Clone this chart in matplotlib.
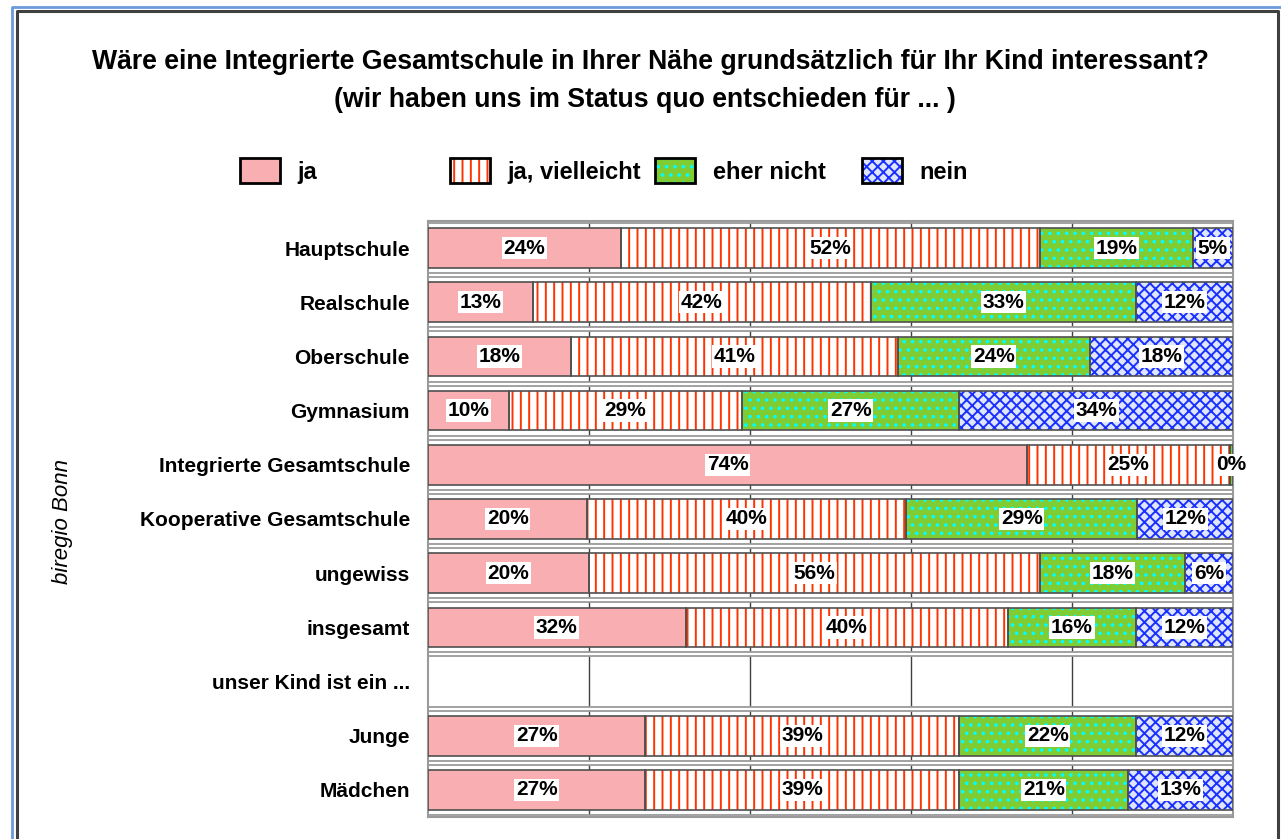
import numpy as np
import matplotlib.pyplot as plt
from matplotlib.patches import Patch
from matplotlib.lines import Line2D
from matplotlib.legend_handler import HandlerTuple

plt.rcParams['font.family'] = ['Liberation Sans', 'DejaVu Sans']
plt.rcParams['hatch.linewidth'] = 1.4

# -----------------------------
# data
# -----------------------------
categories = ["Hauptschule", "Realschule", "Oberschule", "Gymnasium",
              "Integrierte Gesamtschule", "Kooperative Gesamtschule",
              "ungewiss", "insgesamt", "unser Kind ist ein ...",
              "Junge", "Mädchen"]
ja = [24, 13, 18, 10, 74, 20, 20, 32, 0, 27, 27]
ja_vielleicht = [52, 42, 41, 29, 25, 40, 56, 40, 0, 39, 39]
eher_nicht = [19, 33, 24, 27, 0.4, 29, 18, 16, 0, 22, 21]
nein = [5, 12, 18, 34, 0, 12, 6, 12, 0, 12, 13]

series_names = ["ja", "ja, vielleicht", "eher nicht", "nein"]
title_1 = "Wäre eine Integrierte Gesamtschule in Ihrer Nähe grundsätzlich für Ihr Kind interessant?"
title_2 = "(wir haben uns im Status quo entschieden für ... )"

# styles: facecolor, hatch, hatch colour
styles = [("#f9aeb2", None, None),
          ("white", "||", "#ff3300"),
          ("#80cc33", "..", "#00ffff"),
          ("#dfe6fb", "xxx", "#1a30ff")]

# -----------------------------
# figure
# -----------------------------
fig = plt.figure(figsize=(12.81, 8.39), dpi=100)
ax = fig.add_axes([428 / 1281, 1 - 817 / 839, (1233 - 428) / 1281, (817 - 221) / 839])

values = np.array([ja, ja_vielleicht, eher_nicht, nein], dtype=float)
totals = values.sum(axis=0)
totals[totals == 0] = 1
widths = values / totals * 100

y = np.arange(len(categories))
left = np.zeros(len(categories))
bar_h = 0.73

for i, (fc, hatch, hc) in enumerate(styles):
    w = widths[i]
    mask = values[i] > 0
    ax.barh(y[mask], w[mask], left=left[mask], height=bar_h, color=fc,
            hatch=hatch, edgecolor=hc if hc else fc, linewidth=0, zorder=3)
    ax.barh(y[mask], w[mask], left=left[mask], height=bar_h, fill=False,
            edgecolor="#505050", linewidth=1.2, zorder=4)
    for yy, l, ww, v, m in zip(y, left, w, values[i], mask):
        if m:
            ax.text(l + ww / 2, yy, f"{v:.0f}%", ha="center", va="center",
                    fontsize=15, fontweight="bold", color="black", zorder=6,
                    bbox=dict(boxstyle="square,pad=0.08", fc="white", ec="none"))
    left = left + w

ax.set_xlim(0, 100)
ax.set_ylim(len(categories) - 0.5, -0.5)

# vertical grid
for gx in [20, 40, 60, 80]:
    ax.axvline(gx, color="#404040", linewidth=1.0, zorder=1)
# double horizontal lines between rows
for b in np.arange(-0.5, len(categories) + 0.5, 1):
    ax.axhline(b, color="#9a9a9a", linewidth=4.2, zorder=2)
    ax.axhline(b, color="white", linewidth=1.6, zorder=2)

ax.set_yticks(y)
ax.set_yticklabels(categories, fontsize=15, fontweight="bold")
ax.tick_params(axis="y", length=0, pad=13)
ax.set_xticks([])
for s in ax.spines.values():
    s.set_color("#9a9a9a")
    s.set_linewidth(1.5)

ax.set_ylabel("biregio Bonn", fontsize=16, style="italic")
ax.yaxis.set_label_coords(-0.441, 0.495)

fig.text(650 / 1281, 1 - 62 / 839, title_1, ha="center", va="center",
         fontsize=19.2, fontweight="bold")
fig.text(645 / 1281, 1 - 100 / 839, title_2, ha="center", va="center",
         fontsize=19.2, fontweight="bold")

# legend, one box per entry
legend_x = [240, 450, 655, 862]
for name, (fc, hatch, hc), lx in zip(series_names, styles, legend_x):
    fill = Patch(facecolor=fc, hatch=hatch, edgecolor=hc if hc else fc, linewidth=0)
    border = Patch(facecolor="none", edgecolor="black", linewidth=2)
    fig.legend(handles=[(fill, border)], labels=[name],
               handler_map={tuple: HandlerTuple(ndivide=1, pad=0)},
               loc="center left", bbox_to_anchor=(lx / 1281, 1 - 171 / 839),
               frameon=False, handlelength=1.7, handleheight=1.2,
               handletextpad=0.75, borderpad=0, borderaxespad=0,
               prop=dict(size=17, weight="bold"))

# window frame
fig.add_artist(Line2D([11.5 / 1281, 11.5 / 1281, 1], [0, 1 - 6.5 / 839, 1 - 6.5 / 839],
                      color="#6b9bd8", linewidth=2, transform=fig.transFigure))
fig.add_artist(Line2D([17 / 1281, 17 / 1281, 1277.5 / 1281, 1277.5 / 1281],
                      [0, 1 - 10.5 / 839, 1 - 10.5 / 839, 0],
                      color="#404040", linewidth=2.2, transform=fig.transFigure))

fig.savefig("out.png", dpi=100)
